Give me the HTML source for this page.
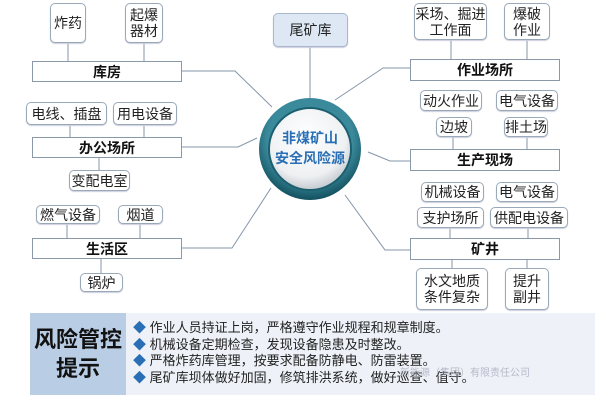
<!DOCTYPE html>
<html><head><meta charset="utf-8"><style>
body{margin:0;width:600px;height:400px;background:#fff;position:relative;overflow:hidden;font-family:"Liberation Sans","Noto Sans CJK SC",sans-serif;}
.b{position:absolute;border:1px solid #9aa9b8;border-radius:5px;background:#fff;display:flex;align-items:center;justify-content:center;text-align:center;font-size:14px;line-height:16px;color:#222;box-sizing:border-box;box-shadow:0 1px 1px #ccd;white-space:nowrap;}
.bar{position:absolute;border:1px solid #8a98a8;background:#fff;display:flex;align-items:center;justify-content:center;font-size:14px;font-weight:bold;color:#111;box-sizing:border-box;}
svg{position:absolute;left:0;top:0;}
</style></head><body>
<svg width="600" height="400">
<g stroke="#8495a8" stroke-width="1" fill="none">
<line x1="68" y1="43" x2="68" y2="61"/><line x1="144" y1="43" x2="144" y2="61"/>
<polyline points="182,71 235,71 272,107"/>
<line x1="70" y1="125" x2="70" y2="137"/><line x1="144" y1="125" x2="144" y2="137"/>
<polyline points="182,147 238,147 257,138"/>
<line x1="99" y1="158" x2="99" y2="170"/>
<line x1="67" y1="224" x2="67" y2="238"/><line x1="140" y1="224" x2="140" y2="238"/>
<polyline points="182,248 232,248 271,188"/>
<line x1="101" y1="259" x2="101" y2="273"/>
<line x1="310" y1="47" x2="310" y2="100"/>
<line x1="451" y1="40" x2="451" y2="59"/><line x1="527" y1="40" x2="527" y2="59"/>
<polyline points="410,68 383,68 335,100"/>
<line x1="453" y1="137" x2="453" y2="149"/><line x1="527" y1="137" x2="527" y2="149"/>
<polyline points="410,161 390,161 368,152"/>
<line x1="450" y1="228" x2="450" y2="238"/><line x1="528" y1="228" x2="528" y2="238"/>
<polyline points="410,250 385,250 345,195"/>
<line x1="452" y1="260" x2="452" y2="268"/><line x1="527" y1="260" x2="527" y2="268"/>
</g>
<defs><radialGradient id="g" cx="0.45" cy="0.35" r="0.7"><stop offset="0" stop-color="#fff"/><stop offset="0.7" stop-color="#eef0f2"/><stop offset="1" stop-color="#b8bfc6"/></radialGradient>
<radialGradient id="r" cx="0.5" cy="0.4" r="0.6"><stop offset="0.7" stop-color="#3a8a9c"/><stop offset="1" stop-color="#12505e"/></radialGradient></defs>
<circle cx="310" cy="149" r="51" fill="url(#r)"/>
<circle cx="310" cy="149" r="41" fill="url(#g)" stroke="#1c6070" stroke-width="2"/>
<text x="310" y="143" text-anchor="middle" font-size="14" font-weight="bold" fill="#2a6fb5" font-family="Liberation Sans,Noto Sans CJK SC,sans-serif">非煤矿山</text>
<text x="310" y="163" text-anchor="middle" font-size="14" font-weight="bold" fill="#2a6fb5" font-family="Liberation Sans,Noto Sans CJK SC,sans-serif">安全风险源</text>
</svg>
<div class="b" style="left:50px;top:3px;width:36px;height:40px">炸药</div>
<div class="b" style="left:125px;top:3px;width:38px;height:40px">起爆<br>器材</div>
<div class="bar" style="left:32px;top:61px;width:150px;height:21px">库房</div>
<div class="b" style="left:26px;top:102px;width:81px;height:23px">电线、插盘</div>
<div class="b" style="left:113px;top:102px;width:64px;height:23px">用电设备</div>
<div class="bar" style="left:32px;top:137px;width:150px;height:21px">办公场所</div>
<div class="b" style="left:69px;top:170px;width:61px;height:21px">变配电室</div>
<div class="b" style="left:36px;top:205px;width:64px;height:19px">燃气设备</div>
<div class="b" style="left:118px;top:205px;width:45px;height:19px">烟道</div>
<div class="bar" style="left:32px;top:238px;width:150px;height:21px">生活区</div>
<div class="b" style="left:80px;top:273px;width:43px;height:19px">锅炉</div>
<div class="b" style="left:273px;top:13px;width:75px;height:34px;background:#dde8f4;border-color:#a8b8cc">尾矿库</div>
<div class="b" style="left:414px;top:3px;width:73px;height:37px">采场、掘进<br>工作面</div>
<div class="b" style="left:504px;top:3px;width:46px;height:37px">爆破<br>作业</div>
<div class="bar" style="left:410px;top:59px;width:150px;height:22px">作业场所</div>
<div class="b" style="left:420px;top:90px;width:62px;height:21px">动火作业</div>
<div class="b" style="left:496px;top:90px;width:62px;height:21px">电气设备</div>
<div class="b" style="left:436px;top:117px;width:36px;height:20px">边坡</div>
<div class="b" style="left:504px;top:117px;width:44px;height:20px">排土场</div>
<div class="bar" style="left:410px;top:149px;width:150px;height:22px">生产现场</div>
<div class="b" style="left:421px;top:182px;width:63px;height:20px">机械设备</div>
<div class="b" style="left:496px;top:182px;width:62px;height:20px">电气设备</div>
<div class="b" style="left:417px;top:207px;width:67px;height:21px">支护场所</div>
<div class="b" style="left:490px;top:207px;width:78px;height:21px">供配电设备</div>
<div class="bar" style="left:410px;top:238px;width:150px;height:22px">矿井</div>
<div class="b" style="left:416px;top:268px;width:72px;height:42px">水文地质<br>条件复杂</div>
<div class="b" style="left:505px;top:268px;width:44px;height:42px">提升<br>副井</div>
<div style="position:absolute;left:30px;top:313px;width:96px;height:82px;background:#b9cde5;display:flex;align-items:center;justify-content:center;text-align:center;font-size:22px;font-weight:bold;line-height:29px;color:#111">风险管控<br>提示</div>
<div style="position:absolute;left:126px;top:313px;width:469px;height:82px;background:#eef2f8;font-size:13px;line-height:16.5px;color:#222;padding:7px 0 0 7px;box-sizing:border-box;white-space:nowrap">
<div><span style="color:#2a6fb5">◆</span> 作业人员持证上岗，严格遵守作业规程和规章制度。</div>
<div><span style="color:#2a6fb5">◆</span> 机械设备定期检查，发现设备隐患及时整改。</div>
<div><span style="color:#2a6fb5">◆</span> 严格炸药库管理，按要求配备防静电、防雷装置。</div>
<div><span style="color:#2a6fb5">◆</span> 尾矿库坝体做好加固，修筑排洪系统，做好巡查、值守。</div>
</div>
<div style="position:absolute;left:400px;top:364px;font-size:10px;color:#aab;opacity:.8">新能源（集团）有限责任公司</div>
</body></html>
